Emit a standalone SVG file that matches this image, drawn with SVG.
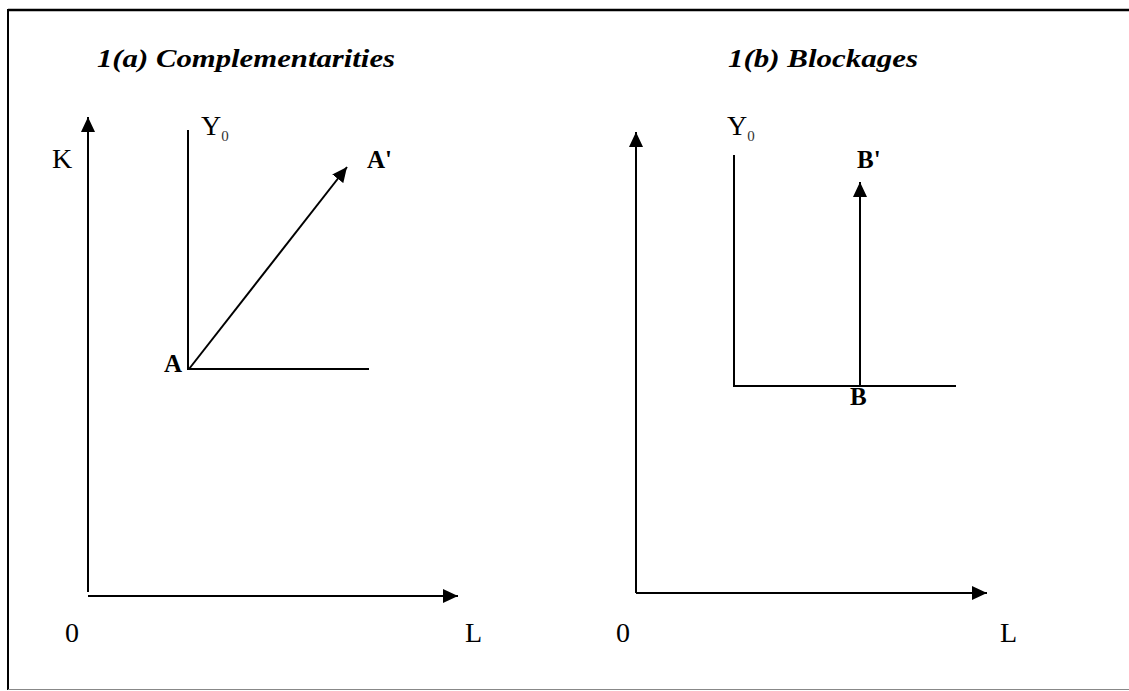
<svg xmlns="http://www.w3.org/2000/svg" width="1129" height="691" viewBox="0 0 1129 691">
<defs>
<style>
.ln{stroke:#000;stroke-width:2;fill:none}
.lbl{font-family:"Liberation Serif",serif;font-size:28px;fill:#000}
.sub{font-family:"Liberation Serif",serif;font-size:15px;fill:#333}
.pt{font-family:"Liberation Serif",serif;font-size:25px;font-weight:bold;fill:#000}
.ttl{font-family:"Liberation Serif",serif;font-size:26px;font-weight:bold;font-style:italic;fill:#000}
</style>
<marker id="ah" markerUnits="userSpaceOnUse" markerWidth="16" markerHeight="16" viewBox="0 0 16 16" refX="15" refY="8" orient="auto">
<path d="M0,1 L15,8 L0,15 Z" fill="#000"/>
</marker>
</defs>
<rect width="1129" height="691" fill="#fff"/>
<g id="frame">
<line x1="8" y1="10" x2="1129" y2="10" stroke="#000" stroke-width="2.5"/>
<line x1="8" y1="9" x2="8" y2="690" stroke="#000" stroke-width="2"/>
<line x1="8" y1="689.5" x2="1129" y2="689.5" stroke="#888" stroke-width="1.2"/>
</g>
<g id="panel-a">
<text id="title-a" class="ttl" x="97" y="67" textLength="298" lengthAdjust="spacingAndGlyphs">1(a) Complementarities</text>
<g id="axis-label-K"><text class="lbl" x="52" y="168">K</text></g>
<g id="axis-label-0a"><text class="lbl" x="65" y="642">0</text></g>
<g id="axis-label-La"><text class="lbl" x="465" y="642">L</text></g>
<g id="isoquant-a">
<path class="ln" d="M188,130 L188,369 L369,369"/>
<text class="lbl" x="201" y="135">Y<tspan class="sub" dy="6">0</tspan></text>
</g>
<g id="point-A"><text class="pt" x="164" y="372">A</text></g>
<g id="point-A-prime"><text class="pt" x="367" y="168">A'</text></g>
</g>
<g id="panel-b">
<text id="title-b" class="ttl" x="728" y="67" textLength="190" lengthAdjust="spacingAndGlyphs">1(b) Blockages</text>
<g id="axis-label-0b"><text class="lbl" x="616" y="642">0</text></g>
<g id="axis-label-Lb"><text class="lbl" x="1000" y="642">L</text></g>
<g id="isoquant-b">
<path class="ln" d="M734,155 L734,386 L956,386"/>
<text class="lbl" x="727" y="135">Y<tspan class="sub" dy="6">0</tspan></text>
</g>
<g id="point-B"><text class="pt" x="850" y="405">B</text></g>
<g id="point-B-prime"><text class="pt" x="857" y="168">B'</text></g>
</g>
<g id="connectors">
<line class="ln" x1="88" y1="592" x2="88" y2="117" marker-end="url(#ah)"/>
<line class="ln" x1="88" y1="596" x2="458" y2="596" marker-end="url(#ah)"/>
<line class="ln" x1="189" y1="369" x2="347" y2="167" marker-end="url(#ah)"/>
<line class="ln" x1="636" y1="593" x2="636" y2="132" marker-end="url(#ah)"/>
<line class="ln" x1="636" y1="593" x2="987" y2="593" marker-end="url(#ah)"/>
<line class="ln" x1="860" y1="386" x2="860" y2="182" marker-end="url(#ah)"/>
</g>
</svg>
